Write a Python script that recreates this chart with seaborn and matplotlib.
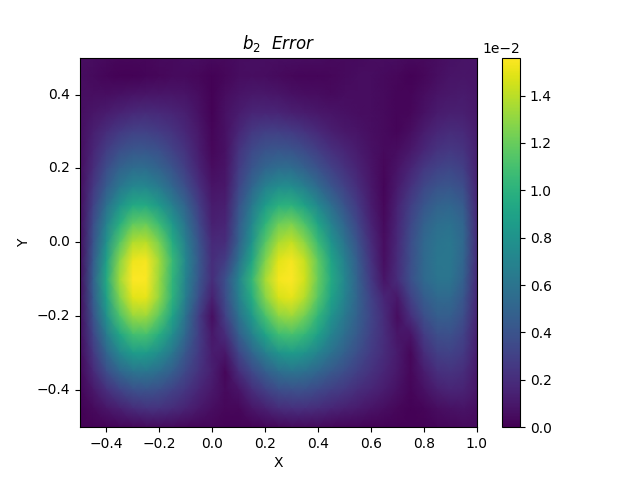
import numpy as np
import pandas as pd
import matplotlib
matplotlib.use("Agg")
import matplotlib.pyplot as plt
import seaborn as sns

x_values = [-0.5, -0.45, -0.4, -0.35, -0.3, -0.25, -0.2, -0.15, -0.1, -0.05, 0.0, 0.05, 0.1, 0.15, 0.2, 0.25,
            0.3, 0.35, 0.4, 0.45, 0.5, 0.55, 0.6, 0.65, 0.7, 0.75, 0.8, 0.85, 0.9, 0.95, 1.0]
y_values = [0.5, 0.45, 0.4, 0.35, 0.3, 0.25, 0.2, 0.15, 0.1, 0.05, 0.0,
            -0.05, -0.1, -0.15, -0.2, -0.25, -0.3, -0.35, -0.4, -0.45, -0.5]
x_ticks = [-0.4, -0.2, 0.0, 0.2, 0.4, 0.6, 0.8, 1.0]
y_ticks = [-0.4, -0.2, 0.0, 0.2, 0.4]

# error, in units of 1e-3, one list per y row (top to bottom)
error_rows = [
    [.6, .5, .4, .3, .3, .3, .4, .4, .5, .5, .4, .4, .5, .6, .6, .6, .6, .5, .5, .4, .4, .4, .5, .5, .5, .4, .4, .5, .7, .8, .8],
    [.5, .4, .2, .1, .1, .2, .3, .4, .4, .3, .1, .3, .5, .6, .5, .4, .3, .2, .2, .3, .4, .5, .5, .4, .3, .1, .3, .6, .8, .9, .8],
    [.6, .6, .6, .7, .8, .9, .9, .9, .8, .5, .1, .5, .8, 1.0, 1.0, .9, .7, .6, .5, .4, .5, .5, .5, .4, .2, .2, .5, .8, 1.0, 1.1, .9],
    [.6, .9, 1.2, 1.5, 1.8, 1.9, 1.8, 1.6, 1.3, .7, .1, .7, 1.2, 1.6, 1.7, 1.6, 1.4, 1.2, 1.0, .8, .7, .6, .5, .4, .2, .3, .7, 1.1, 1.3, 1.3, 1.0],
    [.6, 1.3, 2.0, 2.6, 3.0, 3.0, 2.7, 2.3, 1.7, 1.0, .2, .7, 1.7, 2.5, 2.9, 2.9, 2.7, 2.3, 1.8, 1.3, 1.0, .8, .6, .4, .2, .6, 1.2, 1.7, 1.9, 1.8, 1.2],
    [.5, 1.6, 2.8, 3.7, 4.2, 4.2, 3.8, 3.0, 2.2, 1.2, .3, .7, 2.3, 3.4, 4.0, 4.2, 4.0, 3.5, 2.8, 2.1, 1.6, 1.1, .7, .4, .5, 1.0, 1.7, 2.3, 2.5, 2.3, 1.3],
    [.5, 2.0, 3.6, 4.9, 5.5, 5.5, 4.9, 4.0, 2.8, 1.5, .5, .8, 2.7, 4.1, 5.1, 5.6, 5.5, 4.8, 3.9, 3.0, 2.2, 1.5, .8, .3, .8, 1.6, 2.5, 3.1, 3.3, 2.9, 1.4],
    [.5, 2.5, 4.5, 6.2, 7.2, 7.2, 6.4, 5.1, 3.7, 2.1, .8, 1.0, 3.2, 5.1, 6.8, 7.6, 7.6, 6.7, 5.4, 4.1, 3.0, 2.0, 1.0, .2, 1.1, 2.2, 3.3, 4.0, 4.2, 3.6, 1.5],
    [.5, 3.1, 5.7, 8.0, 9.4, 9.5, 8.4, 6.7, 4.9, 2.8, 1.1, 1.3, 3.9, 6.3, 8.5, 9.9, 10.0, 8.9, 7.3, 5.6, 4.0, 2.6, 1.2, .3, 1.5, 2.9, 4.1, 4.9, 5.1, 4.4, 1.7],
    [.5, 3.6, 6.9, 9.8, 11.8, 12.0, 10.6, 8.3, 5.9, 3.4, 1.4, 1.6, 4.4, 7.2, 10.1, 12.1, 12.5, 11.2, 9.1, 6.9, 5.0, 3.2, 1.5, .4, 1.7, 3.3, 4.8, 5.6, 5.8, 5.0, 1.8],
    [.5, 4.0, 7.8, 11.4, 13.8, 14.0, 12.4, 9.6, 6.7, 4.0, 1.8, 2.0, 4.8, 8.0, 11.4, 13.6, 14.2, 12.9, 10.6, 8.1, 6.0, 3.9, 1.9, .5, 1.8, 3.6, 5.2, 6.0, 6.2, 5.2, 1.9],
    [.5, 4.4, 8.8, 12.8, 15.2, 15.4, 13.4, 10.5, 7.2, 4.3, 2.0, 2.8, 5.8, 9.2, 12.6, 14.9, 15.4, 14.2, 11.8, 9.1, 6.8, 4.5, 2.3, .6, 1.9, 3.7, 5.3, 6.1, 6.2, 5.0, 1.9],
    [.5, 4.8, 9.4, 13.4, 15.6, 15.5, 13.2, 10.2, 7.0, 4.2, 2.0, 3.8, 7.0, 10.3, 13.5, 15.3, 15.6, 14.5, 12.0, 9.5, 7.2, 4.8, 2.6, .8, 2.0, 3.8, 5.3, 6.0, 6.0, 4.7, 1.8],
    [.5, 4.5, 8.8, 12.6, 14.9, 15.0, 13.0, 10.0, 6.6, 3.6, 1.4, 3.6, 6.7, 9.6, 12.7, 14.6, 15.0, 13.8, 11.5, 9.0, 7.0, 4.9, 3.1, 1.6, 1.0, 3.0, 4.5, 5.3, 5.3, 4.2, 1.7],
    [.5, 3.9, 7.8, 11.2, 13.2, 13.3, 11.6, 9.0, 5.8, 2.8, .6, 3.0, 5.8, 8.3, 11.0, 12.9, 13.3, 12.2, 10.2, 8.0, 6.3, 4.7, 3.2, 1.9, .5, 2.1, 3.7, 4.6, 4.6, 3.7, 1.5],
    [.5, 3.2, 6.4, 9.2, 10.9, 11.0, 9.7, 7.6, 5.1, 2.8, 1.0, 2.0, 4.6, 6.8, 9.0, 10.7, 11.0, 10.3, 8.8, 7.0, 5.6, 4.3, 3.0, 2.0, .9, .8, 2.7, 3.7, 3.8, 3.1, 1.3],
    [.4, 2.5, 5.0, 7.2, 8.5, 8.5, 7.6, 6.1, 4.2, 2.6, 1.2, 1.0, 3.2, 5.0, 6.7, 8.0, 8.5, 8.0, 7.0, 5.8, 4.7, 3.7, 2.7, 1.9, 1.1, .3, 1.9, 2.9, 3.1, 2.6, 1.2],
    [.3, 1.8, 3.6, 5.1, 6.0, 6.1, 5.5, 4.6, 3.3, 2.2, 1.3, .3, 2.0, 3.4, 4.6, 5.6, 6.0, 5.7, 5.1, 4.3, 3.6, 2.9, 2.2, 1.6, 1.0, .3, 1.2, 2.1, 2.3, 2.0, 1.0],
    [.2, 1.0, 2.1, 3.1, 3.8, 4.0, 3.7, 3.1, 2.4, 1.6, 1.0, .4, .8, 2.0, 2.9, 3.6, 3.8, 3.8, 3.4, 2.9, 2.5, 2.0, 1.6, 1.2, .7, .2, .7, 1.3, 1.6, 1.5, .9],
    [.1, .4, .9, 1.4, 1.9, 2.2, 2.2, 1.9, 1.5, 1.0, .6, .3, .3, .9, 1.4, 1.9, 2.1, 2.1, 1.9, 1.6, 1.4, 1.1, .8, .6, .3, .1, .2, .5, .7, .8, .6],
    [.1, .1, .1, .2, .3, .4, .4, .4, .3, .2, .2, .1, .1, .1, .2, .3, .4, .4, .4, .3, .2, .2, .1, .1, .1, .1, .1, .2, .3, .4, .4],
]

df = pd.DataFrame(np.array(error_rows) * 1e-3, index=y_values, columns=x_values)

fig, ax = plt.subplots(figsize=(6.4, 4.8), dpi=100)
# gouraud so the cells blend like the fine mesh in the original
sns.heatmap(df, ax=ax, cmap="viridis", vmin=0, vmax=0.0156, shading="gouraud")

# gouraud mesh runs from first to last vertex, so map data values to row/col numbers
ax.set_xlim(0, len(x_values) - 1)
ax.set_ylim(len(y_values) - 1, 0)
ax.set_xticks([x_values.index(t) for t in x_ticks])
ax.set_xticklabels([f"{t:.1f}".replace("-", "\u2212") for t in x_ticks], rotation=0)
ax.set_yticks([y_values.index(t) for t in y_ticks])
ax.set_yticklabels([f"{t:.1f}".replace("-", "\u2212") for t in y_ticks], rotation=0)
for spine in ax.spines.values():
    spine.set_visible(True)

cbar = ax.collections[0].colorbar
cbar.outline.set_linewidth(0.8)
cbar.formatter.set_powerlimits((0, 0))
cbar.set_ticks([0, 0.002, 0.004, 0.006, 0.008, 0.01, 0.012, 0.014])
cbar.update_ticks()

ax.set_title("$b_2$  $Error$")
ax.set_xlabel("X")
ax.set_ylabel("Y")

fig.savefig("out.png", dpi=100)
